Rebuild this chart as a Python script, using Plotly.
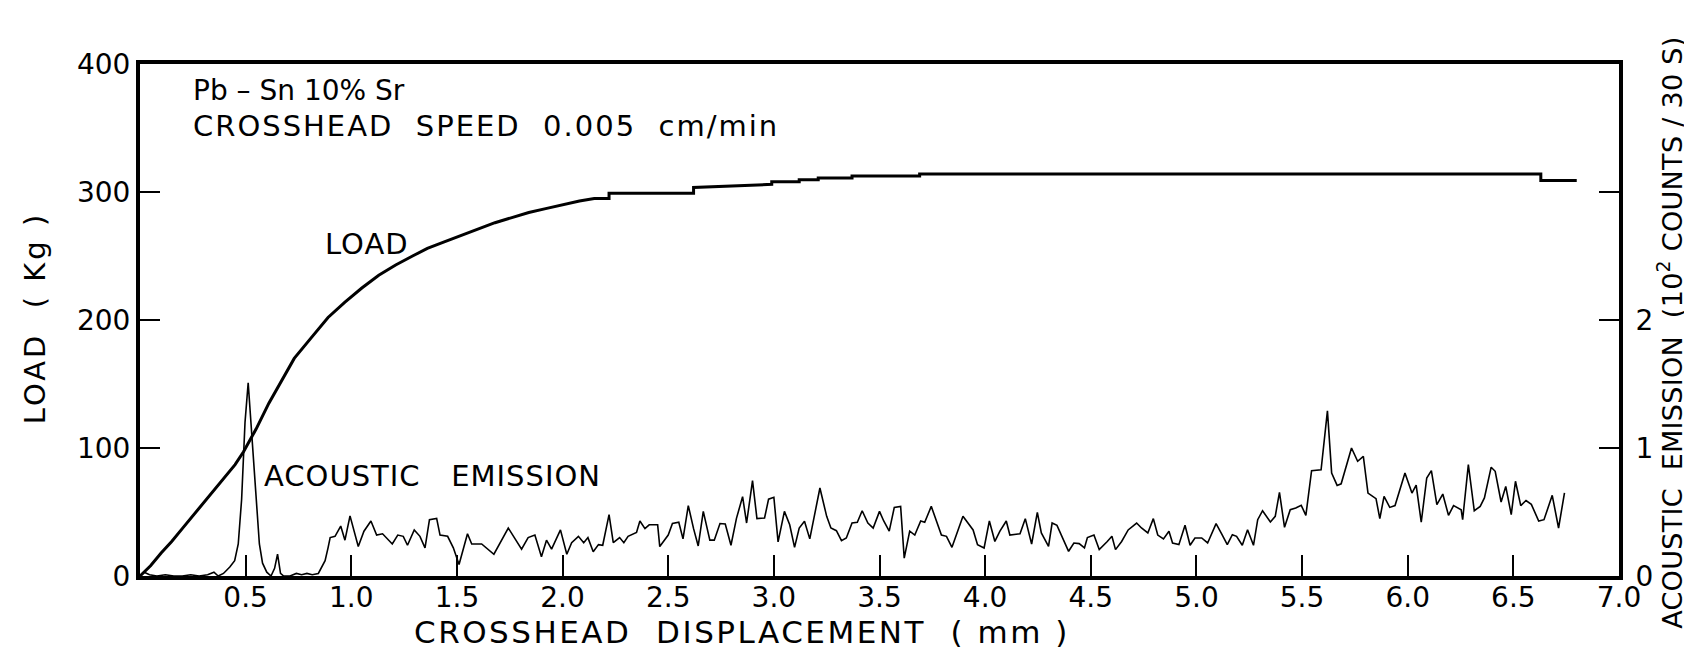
import plotly.graph_objects as go

# ---------------- data ----------------
disp_load = [0.00, 0.05, 0.10, 0.15, 0.20, 0.25, 0.30, 0.35, 0.40, 0.45, 0.49,
             0.55, 0.61, 0.67, 0.73, 0.81, 0.89, 0.97, 1.05, 1.13, 1.21, 1.29,
             1.36, 1.44, 1.52, 1.60, 1.68, 1.76, 1.84, 1.92, 2.00, 2.08, 2.15,
             2.22, 2.22, 2.62, 2.62, 2.99, 2.99, 3.12, 3.12, 3.21, 3.21, 3.37,
             3.37, 3.69, 3.69, 6.63, 6.63, 6.80]
load_kg = [0, 8, 18, 27, 37, 47, 57, 67, 77, 87, 97,
           115, 135, 152, 170, 186, 202, 214, 225, 235, 243, 250,
           256, 261, 266, 271, 276, 280, 284, 287, 290, 293, 295,
           295, 299, 299, 303.5, 306, 308, 308, 309.5, 309.5, 311, 311,
           312.5, 312.5, 314, 314, 309, 309]

disp_ae = [0.000, 0.020, 0.045, 0.080, 0.120, 0.160, 0.200, 0.240, 0.280, 0.320,
           0.350, 0.370, 0.395, 0.425, 0.448, 0.465, 0.481, 0.497, 0.512, 0.525,
           0.540, 0.552, 0.565, 0.580, 0.600, 0.620, 0.637, 0.651, 0.665, 0.680,
           0.710, 0.740, 0.765, 0.790, 0.815, 0.844, 0.865, 0.876, 0.890, 0.900,
           0.923, 0.950, 0.970, 0.994, 1.033, 1.060, 1.093, 1.120, 1.148, 1.194,
           1.220, 1.246, 1.266, 1.298, 1.325, 1.349, 1.370, 1.404, 1.420, 1.456,
           1.483, 1.510, 1.550, 1.570, 1.617, 1.675, 1.743, 1.806, 1.837, 1.869,
           1.900, 1.924, 1.948, 1.990, 2.020, 2.043, 2.075, 2.100, 2.120, 2.145,
           2.170, 2.190, 2.220, 2.240, 2.270, 2.290, 2.310, 2.350, 2.366, 2.390,
           2.410, 2.450, 2.460, 2.500, 2.520, 2.550, 2.570, 2.595, 2.620, 2.642,
           2.666, 2.697, 2.718, 2.745, 2.770, 2.797, 2.823, 2.852, 2.871, 2.899,
           2.920, 2.956, 2.975, 3.000, 3.020, 3.050, 3.075, 3.098, 3.120, 3.145,
           3.170, 3.218, 3.250, 3.270, 3.296, 3.320, 3.343, 3.370, 3.395, 3.418,
           3.445, 3.470, 3.500, 3.520, 3.546, 3.570, 3.600, 3.617, 3.643, 3.667,
           3.695, 3.714, 3.745, 3.774, 3.793, 3.817, 3.843, 3.895, 3.920, 3.943,
           3.964, 3.995, 4.020, 4.046, 4.070, 4.100, 4.117, 4.165, 4.190, 4.220,
           4.247, 4.266, 4.300, 4.317, 4.340, 4.368, 4.395, 4.420, 4.445, 4.470,
           4.484, 4.515, 4.540, 4.578, 4.600, 4.617, 4.646, 4.677, 4.717, 4.740,
           4.770, 4.796, 4.817, 4.844, 4.870, 4.887, 4.917, 4.946, 4.970, 4.993,
           5.025, 5.053, 5.093, 5.120, 5.146, 5.170, 5.190, 5.217, 5.242, 5.270,
           5.290, 5.313, 5.350, 5.373, 5.393, 5.417, 5.444, 5.470, 5.496, 5.518,
           5.545, 5.590, 5.620, 5.640, 5.666, 5.685, 5.734, 5.763, 5.790, 5.812,
           5.850, 5.868, 5.888, 5.915, 5.940, 5.987, 6.020, 6.040, 6.064, 6.090,
           6.112, 6.138, 6.166, 6.193, 6.217, 6.253, 6.260, 6.287, 6.315, 6.343,
           6.363, 6.395, 6.414, 6.442, 6.464, 6.490, 6.510, 6.535, 6.560, 6.585,
           6.620, 6.645, 6.684, 6.714, 6.742]
ae_counts = [0.00, 0.03, 0.01, 0.00, 0.01, 0.00, 0.00, 0.01, 0.00, 0.01,
             0.03, 0.00, 0.02, 0.07, 0.12, 0.25, 0.60, 1.20, 1.51, 1.20,
             0.85, 0.50, 0.25, 0.10, 0.03, 0.00, 0.06, 0.17, 0.02, 0.00,
             0.00, 0.02, 0.01, 0.02, 0.01, 0.02, 0.08, 0.12, 0.22, 0.30,
             0.31, 0.39, 0.28, 0.47, 0.23, 0.35, 0.43, 0.32, 0.33, 0.25,
             0.32, 0.31, 0.24, 0.36, 0.31, 0.22, 0.44, 0.45, 0.32, 0.31,
             0.22, 0.09, 0.33, 0.25, 0.25, 0.17, 0.375, 0.21, 0.30, 0.32,
             0.15, 0.28, 0.21, 0.36, 0.17, 0.26, 0.31, 0.26, 0.30, 0.19,
             0.245, 0.24, 0.48, 0.26, 0.30, 0.26, 0.31, 0.34, 0.43, 0.37,
             0.40, 0.40, 0.23, 0.32, 0.41, 0.42, 0.29, 0.55, 0.37, 0.235,
             0.505, 0.28, 0.28, 0.41, 0.406, 0.24, 0.45, 0.62, 0.414, 0.745,
             0.448, 0.453, 0.60, 0.615, 0.266, 0.505, 0.40, 0.224, 0.375, 0.427,
             0.29, 0.6875, 0.466, 0.375, 0.354, 0.276, 0.297, 0.414, 0.42, 0.51,
             0.414, 0.375, 0.505, 0.43, 0.35, 0.536, 0.544, 0.14, 0.35, 0.32,
             0.43, 0.42, 0.544, 0.40, 0.32, 0.31, 0.224, 0.466, 0.414, 0.36,
             0.245, 0.219, 0.43, 0.27, 0.35, 0.43, 0.32, 0.33, 0.448, 0.25,
             0.497, 0.336, 0.232, 0.414, 0.396, 0.297, 0.193, 0.258, 0.253, 0.219,
             0.30, 0.32, 0.206, 0.27, 0.31, 0.206, 0.27, 0.36, 0.414, 0.375,
             0.336, 0.448, 0.32, 0.29, 0.349, 0.258, 0.245, 0.396, 0.24, 0.297,
             0.297, 0.258, 0.409, 0.328, 0.245, 0.323, 0.31, 0.24, 0.362, 0.24,
             0.44, 0.51, 0.422, 0.466, 0.654, 0.38, 0.518, 0.531, 0.552, 0.474,
             0.823, 0.83, 1.29, 0.805, 0.708, 0.72, 1.00, 0.896, 0.935, 0.648,
             0.604, 0.448, 0.622, 0.536, 0.55, 0.805, 0.648, 0.71, 0.42, 0.766,
             0.823, 0.557, 0.64, 0.474, 0.55, 0.518, 0.44, 0.87, 0.51, 0.544,
             0.61, 0.85, 0.818, 0.578, 0.70, 0.48, 0.74, 0.55, 0.59, 0.56,
             0.43, 0.44, 0.63, 0.375, 0.65]

x_ticks = [0.5, 1.0, 1.5, 2.0, 2.5, 3.0, 3.5, 4.0, 4.5, 5.0, 5.5, 6.0, 6.5, 7.0]
x_tick_labels = ["0.5", "1.0", "1.5", "2.0", "2.5", "3.0", "3.5", "4.0",
                 "4.5", "5.0", "5.5", "6.0", "6.5", "7.0"]
load_ticks = [0, 100, 200, 300, 400]
load_tick_labels = ["0", "100", "200", "300", "400"]
ae_ticks = [0, 1, 2]
ae_tick_labels = ["0", "1", "2"]

FONT = "DejaVu Sans"


def spaced(text, px):
    return '<span style="letter-spacing:%spx">%s</span>' % (px, text)


fig = go.Figure()
fig.add_trace(go.Scatter(x=disp_load, y=load_kg, mode="lines",
                         line=dict(color="black", width=3), name="LOAD"))
fig.add_trace(go.Scatter(x=disp_ae, y=ae_counts, mode="lines", yaxis="y2",
                         line=dict(color="black", width=1.6),
                         name="ACOUSTIC EMISSION"))

axis_common = dict(showgrid=False, zeroline=False, showline=True,
                   linecolor="black", ticks="inside", tickcolor="black",
                   tickwidth=2, automargin=False,
                   tickfont=dict(family=FONT, size=28, color="black"))

fig.update_layout(
    width=1692, height=649,
    margin=dict(l=132, r=81, t=56, b=81, pad=0),
    paper_bgcolor="white", plot_bgcolor="white",
    showlegend=False,
    font=dict(family=FONT, color="black"),
    xaxis=dict(range=[0, 7], tickvals=x_ticks, ticktext=x_tick_labels,
               ticklen=21, linewidth=4, mirror=True, ticklabelstandoff=-7,
               **axis_common),
    yaxis=dict(range=[0, 400], tickvals=load_ticks, ticktext=load_tick_labels,
               ticklen=20, linewidth=4, mirror="ticks", **axis_common),
    yaxis2=dict(range=[0, 4], tickvals=ae_ticks, ticktext=ae_tick_labels,
                overlaying="y", side="right", ticklen=20, linewidth=4,
                ticklabelstandoff=7, **axis_common),
)

ann_font = dict(family=FONT, size=29, color="black")
annotations = [
    dict(x=0.24, y=379.5, xref="x", yref="y", xanchor="left", yanchor="middle",
         text="Pb – Sn 10% Sr", showarrow=False,
         font=dict(family=FONT, size=28, color="black")),
    dict(x=0.24, y=351.5, xref="x", yref="y", xanchor="left", yanchor="middle",
         text=spaced("CROSSHEAD  SPEED  0.005  cm/min", 2.0), showarrow=False,
         font=ann_font),
    dict(x=0.8675, y=259.4, xref="x", yref="y", xanchor="left", yanchor="middle",
         text=spaced("LOAD", 1.0), showarrow=False, font=ann_font),
    dict(x=0.5755, y=77.9, xref="x", yref="y", xanchor="left", yanchor="middle",
         text=spaced("ACOUSTIC   EMISSION", 1.0), showarrow=False, font=ann_font),
    dict(x=0.407, y=-0.1095, xref="paper", yref="paper", xanchor="center",
         yanchor="middle", text=spaced("CROSSHEAD  DISPLACEMENT  ( mm )", 2.5),
         showarrow=False, font=dict(family=FONT, size=31, color="black")),
    dict(x=-0.0708, y=0.504, xref="paper", yref="paper", xanchor="center",
         yanchor="middle", textangle=-90, text=spaced("LOAD  ( Kg )", 3),
         showarrow=False, font=dict(family=FONT, size=29, color="black")),
    dict(x=1.0345, y=0.475, xref="paper", yref="paper", xanchor="center",
         yanchor="middle", textangle=-90,
         text=spaced("ACOUSTIC  EMISSION  (10<sup>2</sup> COUNTS / 30 S)", 0.3),
         showarrow=False, font=dict(family=FONT, size=27, color="black")),
]
fig.update_layout(annotations=annotations)

fig.write_html("out.html")
